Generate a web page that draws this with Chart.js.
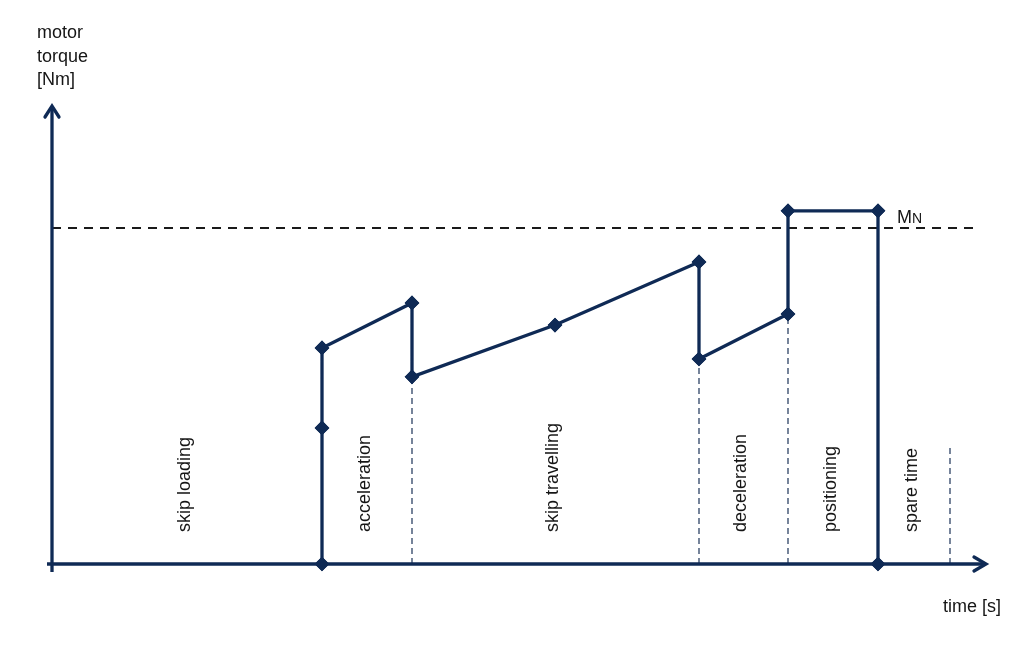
<!DOCTYPE html>
<html>
<head>
<meta charset="utf-8">
<script src="https://cdn.jsdelivr.net/npm/chart.js@4.4.1/dist/chart.umd.min.js"></script>
<style>
html,body{margin:0;padding:0;background:#fff;}
canvas{display:block;}
</style>
</head>
<body>
<canvas id="c" width="1024" height="652"></canvas>
<script>
// ---- data ----
const timeValues   = [27, 27, 27, 36, 36, 50.3, 64.7, 64.7, 73.6, 73.6, 82.6, 82.6];
const torqueValues = [0, 40.5, 64.3, 77.7, 55.7, 71.1, 89.9, 61.0, 74.4, 105.1, 105.1, 0];
const nominalTorque = 100;          // M_N
const nominalLineEnd = 92.3;        // time where the dashed M_N line ends
const phaseNames = ["skip loading", "acceleration", "skip travelling", "deceleration", "positioning", "spare time"];
const phaseStart = [0, 27, 36, 64.7, 73.6, 82.6];
const phaseEnd   = [27, 36, 64.7, 73.6, 82.6, 89.8];
const boundaryTimes  = [36, 64.7, 73.6, 89.8];
const boundaryTorque = [55.7, 61.0, 74.4, 35.4];
const xAxisLabel = "time [s]";
const yAxisLabel = ["motor", "torque", "[Nm]"];
const nominalLabel = ["M", "N"];

const NAVY = "#0f2a55";
const FONT = "'Liberation Sans', Arial, sans-serif";

const datasets = [];
// thin dashed phase boundaries
boundaryTimes.forEach((t, i) => {
  datasets.push({
    data: [{x: t, y: 0}, {x: t, y: boundaryTorque[i]}],
    showLine: true, borderColor: "#1c3358", borderWidth: 1.2, borderDash: [6, 4],
    pointRadius: 0, order: 3
  });
});
// nominal torque dashed line
datasets.push({
  data: [{x: 0, y: nominalTorque}, {x: nominalLineEnd, y: nominalTorque}],
  showLine: true, borderColor: "#1a1a1a", borderWidth: 2, borderDash: [9, 7],
  pointRadius: 0, order: 2
});
// torque profile
datasets.push({
  data: timeValues.map((t, i) => ({x: t, y: torqueValues[i]})),
  showLine: true, borderColor: NAVY, borderWidth: 3.3,
  pointStyle: "rectRot", pointRadius: 5, pointBackgroundColor: NAVY, pointBorderColor: NAVY,
  order: 1
});

const decor = {
  id: "decor",
  afterDatasetsDraw(chart) {
    const ctx = chart.ctx;
    const xs = chart.scales.x, ys = chart.scales.y;
    const x0 = xs.getPixelForValue(0), y0 = ys.getPixelForValue(0);
    const xEnd = xs.getPixelForValue(xs.max) - 3;
    const yTop = ys.getPixelForValue(ys.max);
    ctx.save();
    ctx.strokeStyle = NAVY; ctx.lineWidth = 3.3; ctx.lineCap = "butt";
    // y axis
    ctx.beginPath(); ctx.moveTo(x0, y0 + 8); ctx.lineTo(x0, yTop + 1); ctx.stroke();
    // x axis
    ctx.beginPath(); ctx.moveTo(x0 - 5, y0); ctx.lineTo(xEnd - 1, y0); ctx.stroke();
    // arrowheads
    ctx.lineJoin = "miter"; ctx.lineCap = "round";
    ctx.beginPath(); ctx.moveTo(x0 - 7, yTop + 12); ctx.lineTo(x0, yTop + 1); ctx.lineTo(x0 + 7, yTop + 12); ctx.stroke();
    ctx.beginPath(); ctx.moveTo(xEnd - 13, y0 - 7); ctx.lineTo(xEnd - 1, y0); ctx.lineTo(xEnd - 13, y0 + 7); ctx.stroke();
    // redraw bottom markers over axis
    const meta = chart.getDatasetMeta(chart.data.datasets.length - 1);
    meta.data.forEach(p => p.draw(ctx, chart.chartArea));
    // texts
    ctx.fillStyle = "#151515";
    ctx.font = "18px " + FONT;
    ctx.textAlign = "left"; ctx.textBaseline = "alphabetic";
    yAxisLabel.forEach((s, i) => ctx.fillText(s, 37, 38 + i * 23.5));
    ctx.fillText(xAxisLabel, 943, 612);
    // M_N
    const ny = ys.getPixelForValue(nominalTorque) - 5;
    ctx.font = "18px " + FONT;
    ctx.fillText(nominalLabel[0], 897, ny);
    const mw = ctx.measureText(nominalLabel[0]).width;
    ctx.font = "14px " + FONT;
    ctx.fillText(nominalLabel[1], 897 + mw, ny);
    // phase labels (rotated)
    ctx.font = "18px " + FONT;
    phaseNames.forEach((s, i) => {
      const cx = xs.getPixelForValue((phaseStart[i] + phaseEnd[i]) / 2);
      ctx.save();
      ctx.translate(cx - 2, 532);
      ctx.rotate(-Math.PI / 2);
      ctx.textAlign = "left"; ctx.textBaseline = "middle";
      ctx.fillText(s, 0, 0);
      ctx.restore();
    });
    ctx.restore();
  }
};

new Chart(document.getElementById("c"), {
  type: "scatter",
  data: { datasets },
  options: {
    responsive: false, animation: false,
    layout: { padding: { left: 52, right: 34, top: 105, bottom: 88 } },
    plugins: { legend: { display: false }, tooltip: { enabled: false } },
    scales: {
      x: { type: "linear", min: 0, max: 93.8, display: false },
      y: { type: "linear", min: 0, max: 136.6, display: false }
    },
    clip: false
  },
  plugins: [decor]
});
</script>
</body>
</html>
